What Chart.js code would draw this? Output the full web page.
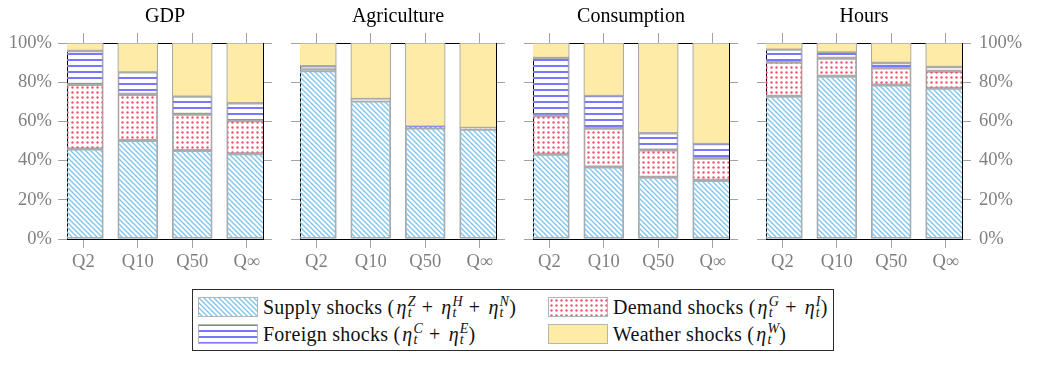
<!DOCTYPE html>
<html>
<head>
<meta charset="utf-8">
<script src="https://cdn.jsdelivr.net/npm/chart.js@4.4.2/dist/chart.umd.min.js"></script>
<style>
  body { margin: 0; background: #fff; width: 1042px; height: 377px; position: relative; overflow: hidden; font-family: 'Liberation Serif', serif; }
  canvas.panel { position: absolute; top: 0; }
  #legend { position: absolute; left: 192px; top: 289px; width: 642px; height: 62px; border: 1px solid #2b2b2b; box-sizing: border-box; }
  .item { position: absolute; display: flex; align-items: center; height: 20px; font-size: 20px; letter-spacing: 0.25px; color: #111; white-space: nowrap; }
  .item canvas { border: 1px solid #b5b5b5; margin-right: 5px; }
  .ss { display: inline-block; vertical-align: -5px; font-size: 14px; line-height: 11px; font-style: italic; text-align: left; margin-left: 1px; }
  .op { padding: 0 6px; }
  i { font-style: italic; padding-left: 2px; }
</style>
</head>
<body>
<div id="legend">
  <div class="item" style="left:5px; top:7px;"><canvas id="sw0" width="58" height="18"></canvas>Supply shocks&nbsp;(<i>η</i><span class="ss">Z<br>t</span><span class="op">+</span><i>η</i><span class="ss">H<br>t</span><span class="op">+</span><i>η</i><span class="ss">N<br>t</span>)</div>
  <div class="item" style="left:355px; top:7px;"><canvas id="sw1" width="58" height="18"></canvas>Demand shocks&nbsp;(<i>η</i><span class="ss">G<br>t</span><span class="op">+</span><i>η</i><span class="ss">I<br>t</span>)</div>
  <div class="item" style="left:5px; top:34px;"><canvas id="sw2" width="58" height="18"></canvas>Foreign shocks&nbsp;(<i>η</i><span class="ss">C<br>t</span><span class="op">+</span><i>η</i><span class="ss">E<br>t</span>)</div>
  <div class="item" style="left:355px; top:34px;"><canvas id="sw3" width="58" height="18"></canvas>Weather shocks&nbsp;(<i>η</i><span class="ss">W<br>t</span>)</div>
</div>
<script>
const categories = ['Q2', 'Q10', 'Q50', 'Q\u221e'];
const panelTitles = ['GDP', 'Agriculture', 'Consumption', 'Hours'];
const yTicks = [0, 20, 40, 60, 80, 100];

// shares in %, one value per horizon
const gdpSupply = [45.9, 50.3, 45.2, 43.5];
const gdpDemand = [33.0, 23.5, 18.4, 16.9];
const gdpForeign = [17.2, 11.4, 9.2, 9.0];
const gdpWeather = [3.9, 14.8, 27.2, 30.6];

const agriSupply = [85.9, 70.4, 56.6, 56.0];
const agriDemand = [0.5, 0.6, 0.5, 0.4];
const agriForeign = [1.9, 0.6, 0.4, 0.4];
const agriWeather = [11.7, 28.4, 42.5, 43.2];

const consSupply = [43.2, 36.7, 31.5, 29.9];
const consDemand = [19.7, 19.8, 13.9, 11.3];
const consForeign = [29.6, 16.6, 8.7, 7.4];
const consWeather = [7.5, 26.9, 45.9, 51.4];

const hoursSupply = [72.8, 83.0, 78.6, 76.9];
const hoursDemand = [17.4, 9.2, 8.6, 8.7];
const hoursForeign = [6.6, 3.1, 2.8, 2.3];
const hoursWeather = [3.2, 4.7, 10.0, 12.1];

Chart.defaults.font.family = "'Liberation Serif', serif";
Chart.defaults.animation = false;

const tickGray = '#a3a3a3';
const labelGray = '#7f7f7f';

function pattern(w, h, draw) {
  const c = document.createElement('canvas');
  c.width = w;
  c.height = h;
  const g = c.getContext('2d');
  draw(g);
  return g.createPattern(c, 'repeat');
}

const supplyFill = pattern(5, 5, g => {
  g.strokeStyle = '#80c4ec';
  g.lineWidth = 1.35;
  g.beginPath();
  g.moveTo(-1, -1); g.lineTo(6, 6);
  g.moveTo(-1, 4); g.lineTo(1, 6);
  g.moveTo(4, -1); g.lineTo(6, 1);
  g.stroke();
});
const demandFill = pattern(5, 5, g => {
  g.fillStyle = '#f4566f';
  g.beginPath();
  g.arc(2.5, 2.5, 1.2, 0, Math.PI * 2);
  g.fill();
});
const foreignFill = pattern(6, 6, g => {
  g.fillStyle = '#7878ff';
  g.fillRect(0, 0, 6, 1);
  g.fillRect(0, 5, 6, 1);
});
const weatherFill = '#ffeba8';

const series = [
  { label: 'Supply shocks', fill: supplyFill },
  { label: 'Demand shocks', fill: demandFill },
  { label: 'Foreign shocks', fill: foreignFill },
  { label: 'Weather shocks', fill: weatherFill }
];

const panels = [
  [gdpSupply, gdpDemand, gdpForeign, gdpWeather],
  [agriSupply, agriDemand, agriForeign, agriWeather],
  [consSupply, consDemand, consForeign, consWeather],
  [hoursSupply, hoursDemand, hoursForeign, hoursWeather]
];

const xAxis = (position) => ({
  type: 'linear',
  position: position,
  min: -0.3,
  max: 3.3,
  offset: false,
  stacked: true,
  afterBuildTicks: s => { s.ticks = categories.map((c, i) => ({ value: i })); },
  afterFit: s => { s.height = position === 'top' ? 10 : 41; },
  grid: { offset: false, drawOnChartArea: false, tickLength: position === 'top' ? 10 : 9, color: tickGray },
  border: { color: '#000', width: 1 },
  ticks: {
    display: position === 'bottom',
    callback: v => categories[v],
    color: labelGray,
    font: { size: 18.5 },
    padding: 3,
    maxRotation: 0,
    autoSkip: false
  }
});

const yAxis = (position, showLabels) => ({
  type: 'linear',
  position: position,
  min: 0,
  max: 100,
  stacked: position === 'left',
  afterBuildTicks: s => { s.ticks = yTicks.map(v => ({ value: v })); },
  afterFit: s => { s.width = position === 'left' ? 67 : 79; },
  grid: { drawOnChartArea: false, tickLength: 9, color: tickGray },
  border: { color: '#000', width: 1 },
  ticks: {
    display: showLabels,
    callback: v => v + '%',
    color: labelGray,
    font: { size: 18.5 },
    padding: position === 'left' ? 6 : 8
  }
});

panels.forEach((values, p) => {
  const canvas = document.createElement('canvas');
  canvas.className = 'panel';
  canvas.width = 342;
  canvas.height = 280;
  canvas.style.left = (233 * p) + 'px';
  document.body.appendChild(canvas);

  new Chart(canvas, {
    type: 'bar',
    data: {
      datasets: series.map((s, k) => ({
        label: s.label,
        data: values[k].map((v, i) => ({ x: i, y: v })),
        backgroundColor: s.fill,
        borderColor: '#ababab',
        borderWidth: 1.2,
        borderSkipped: false,
        barThickness: 40,
        clip: 0,
        xAxisID: 'x',
        yAxisID: 'y'
      }))
    },
    options: {
      responsive: false,
      events: [],
      layout: { padding: 0 },
      plugins: {
        legend: { display: false },
        tooltip: { enabled: false },
        title: {
          display: true,
          text: panelTitles[p],
          color: '#000',
          fullSize: false,
          font: { size: 20, weight: 'normal' },
          padding: { top: 5, bottom: 4 }
        }
      },
      scales: {
        x: xAxis('bottom'),
        x2: xAxis('top'),
        y: yAxis('left', p === 0),
        y2: yAxis('right', p === 3)
      }
    }
  });
});

// legend swatches use the same fills as the bars
series.forEach((s, k) => {
  const g = document.getElementById('sw' + k).getContext('2d');
  g.fillStyle = s.fill;
  g.fillRect(0, 0, 58, 18);
});
</script>
</body>
</html>
